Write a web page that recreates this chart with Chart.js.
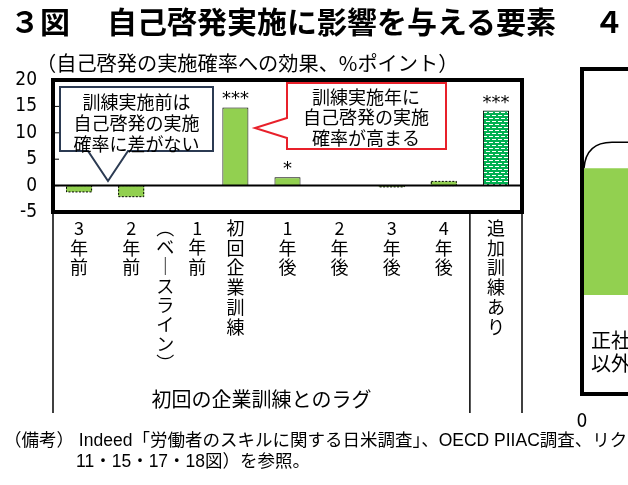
<!DOCTYPE html>
<html><head><meta charset="utf-8">
<script src="https://cdn.jsdelivr.net/npm/chart.js@4/dist/chart.umd.min.js"></script>
<style>
html,body{margin:0;padding:0;background:#fff;}
#wrap{position:relative;width:628px;height:485px;overflow:hidden;background:#fff;}
canvas{position:absolute;top:0;}
.t{position:absolute;white-space:nowrap;color:#000;line-height:1;font-family:"Liberation Sans","Noto Sans CJK JP",sans-serif;}
.h{font-size:30px;font-weight:bold;font-family:'Noto Sans CJK JP',sans-serif;top:5px;}
</style></head><body>
<div id="wrap">
<canvas id="c2" width="320" height="485" style="left:560px"></canvas>
<canvas id="c1" width="628" height="485" style="left:0"></canvas>
<div class="t h" style="left:10px;">３図</div>
<div class="t h" style="left:107px;">自己啓発実施に影響を与える要素</div>
<div class="t h" style="left:594px;">４</div>
<div class="t" id="sub" style="left:36px;top:53px;font-size:20.2px;font-family:'Noto Sans CJK JP',sans-serif;">（自己啓発の実施確率への効果、%ポイント）</div>
<div class="t" id="note1" style="left:4px;top:432px;font-size:17.5px;">（備考） Indeed「労働者のスキルに関する日米調査」、OECD PIIAC調査、リクルート</div>
<div class="t" id="note2" style="left:76px;top:453px;font-size:17.5px;">11・15・17・18図）を参照。</div>
</div>
<script>
// ---- data ----
const categories = ['3年前','2年前','1年前','初回企業訓練','1年後','2年後','3年後','4年後','追加訓練あり'];
const labelNotes = ['','','（ベースライン）','','','','','',''];
const effects = [-1.2, -2.1, 0, 14.8, 1.6, 0, -0.25, 0.8, 14.2];
const stars = ['','','','***','*','','','','***'];
const yTicks = [-5, 0, 5, 10, 15, 20];
const groupLabel = '初回の企業訓練とのラグ';
const calloutLeft = ['訓練実施前は','自己啓発の実施','確率に差がない'];
const calloutRight = ['訓練実施年に','自己啓発の実施','確率が高まる'];
const rightCategories = ['正社員以外'];
const rightValues = [40];
const rightLabelLines = ['正社員','以外'];

const GREEN = '#92D050';
const c1 = document.getElementById('c1');
const ctx1 = c1.getContext('2d');
const pc = document.createElement('canvas'); pc.width = 6; pc.height = 6;
const pg = pc.getContext('2d');
pg.fillStyle = '#00B050'; pg.fillRect(0,0,6,6);
pg.fillStyle = '#ffffff';
pg.fillRect(0,1,4,1); pg.fillRect(3,4,3,1); pg.fillRect(0,4,1,1);
const hatch = ctx1.createPattern(pc, 'repeat');
const isSig = i => stars[i] !== '';
const lastIdx = categories.length - 1;

const vmap = {'（':'︵','）':'︶','ー':'｜'};
function drawColumn(ctx, text, x, y0, step) {
  let y = y0;
  for (const ch of text) { ctx.fillText(vmap[ch] || ch, x, y); y += step; }
}

const decor = {
  id: 'decor',
  afterDatasetsDraw(chart) {
    const {ctx, chartArea: a, scales: {x, y}} = chart;
    const meta = chart.getDatasetMeta(0);
    ctx.save();
    // dashed borders for non-significant bars
    ctx.strokeStyle = '#000'; ctx.lineWidth = 1; ctx.setLineDash([2, 1.5]);
    meta.data.forEach((el, i) => {
      if (isSig(i) || effects[i] === 0) return;
      const p = el.getProps(['x','y','base','width'], true);
      const t = Math.min(p.y, p.base), b = Math.max(p.y, p.base);
      ctx.strokeRect(p.x - p.width/2 + 0.5, t, p.width - 1, Math.max(b - t, 0.5));
    });
    ctx.setLineDash([]);
    // zero line
    const y0 = y.getPixelForValue(0);
    ctx.lineWidth = 2; ctx.beginPath(); ctx.moveTo(a.left, y0); ctx.lineTo(a.right, y0); ctx.stroke();
    // inner ticks
    ctx.lineWidth = 1;
    yTicks.forEach(v => { const py = y.getPixelForValue(v); ctx.beginPath(); ctx.moveTo(a.left, py); ctx.lineTo(a.left + 6, py); ctx.stroke(); });
    // frame
    ctx.lineWidth = 4; ctx.strokeRect(a.left, a.top, a.right - a.left, a.bottom - a.top);
    // stars
    ctx.fillStyle = '#000'; ctx.font = '18px "DejaVu Sans"'; ctx.textAlign = 'center'; ctx.textBaseline = 'alphabetic';
    meta.data.forEach((el, i) => { if (stars[i]) ctx.fillText(stars[i], el.x, Math.min(el.y, el.base) - 3); });
    // separators below frame
    const sep = (x.getPixelForValue(lastIdx - 1) + x.getPixelForValue(lastIdx)) / 2;
    ctx.lineWidth = 1.5;
    [a.left, sep, a.right].forEach(px => { ctx.beginPath(); ctx.moveTo(px, a.bottom + 2); ctx.lineTo(px, 413); ctx.stroke(); });
    // category labels (vertical)
    ctx.font = '18px "Noto Sans CJK JP"'; ctx.textBaseline = 'middle';
    categories.forEach((c, i) => {
      const cx = x.getPixelForValue(i);
      if (labelNotes[i]) {
        drawColumn(ctx, labelNotes[i], cx - 18, 228, 19.3);
        drawColumn(ctx, c, cx + 14, 228, 19.4);
      } else {
        drawColumn(ctx, c, cx, 228, 19.8);
      }
    });
    ctx.font = '20px "Noto Sans CJK JP"';
    ctx.fillText(groupLabel, (a.left + sep) / 2, 399);
    // left callout
    ctx.lineWidth = 2; ctx.strokeStyle = '#2B3A52'; ctx.fillStyle = '#fff';
    ctx.beginPath();
    ctx.moveTo(60, 87); ctx.lineTo(213, 87); ctx.lineTo(213, 151); ctx.lineTo(128, 151);
    ctx.lineTo(108, 181); ctx.lineTo(88, 151); ctx.lineTo(60, 151); ctx.closePath();
    ctx.fill(); ctx.stroke();
    ctx.fillStyle = '#000'; ctx.font = '18px "Noto Sans CJK JP"';
    calloutLeft.forEach((s, k) => ctx.fillText(s, 136.5, 102 + k * 21));
    // right callout
    ctx.strokeStyle = '#E8202A'; ctx.fillStyle = '#fff';
    ctx.beginPath();
    ctx.moveTo(287, 83); ctx.lineTo(446, 83); ctx.lineTo(446, 149); ctx.lineTo(287, 149);
    ctx.lineTo(287, 138); ctx.lineTo(255, 128); ctx.lineTo(287, 118); ctx.closePath();
    ctx.fill(); ctx.stroke();
    ctx.fillStyle = '#000';
    calloutRight.forEach((s, k) => ctx.fillText(s, 366, 97 + k * 20.5));
    ctx.restore();
  }
};

new Chart(c1, {
  type: 'bar',
  data: { labels: categories, datasets: [{
    data: effects,
    backgroundColor: categories.map((c, i) => i === lastIdx ? hatch : GREEN),
    borderColor: '#000',
    borderWidth: categories.map((c, i) => isSig(i) ? 1 : 0),
    barPercentage: 0.5, categoryPercentage: 1
  }]},
  options: {
    responsive: false, animation: false,
    layout: { padding: { left: 0, top: 80, right: 106, bottom: 273 } },
    plugins: { legend: { display: false }, tooltip: { enabled: false } },
    scales: {
      x: { display: false },
      y: {
        min: -5, max: 20,
        afterBuildTicks(s) { s.ticks = yTicks.map(v => ({ value: v })); },
        afterFit(s) { s.width = 53; },
        ticks: { padding: 16, color: '#000', font: { family: 'DejaVu Sans Condensed', size: 19 } },
        grid: { display: false, drawTicks: false },
        border: { display: false }
      }
    }
  },
  plugins: [decor]
});

// ---- right partial panel ----
const decor2 = {
  id: 'decor2',
  afterDatasetsDraw(chart) {
    const {ctx, chartArea: a} = chart;
    const meta = chart.getDatasetMeta(0);
    const el = meta.data[0];
    const top = el.y - el.height / 2;
    ctx.save();
    ctx.strokeStyle = '#000';
    ctx.lineWidth = 1.5;
    ctx.beginPath();
    ctx.moveTo(a.left + 2, top);
    ctx.quadraticCurveTo(a.left + 4, top - 26, a.left + 30, top - 26);
    ctx.lineTo(a.right + 10, top - 26);
    ctx.stroke();
    ctx.lineWidth = 4;
    ctx.strokeRect(a.left, a.top, a.right - a.left + 20, a.bottom - a.top);
    ctx.fillStyle = '#000'; ctx.font = '20px "Noto Sans CJK JP"'; ctx.textBaseline = 'middle'; ctx.textAlign = 'left';
    rightLabelLines.forEach((s, k) => ctx.fillText(s, a.left + 9, 340 + k * 23));
    ctx.restore();
  }
};
new Chart(document.getElementById('c2'), {
  type: 'bar',
  data: { labels: rightCategories, datasets: [{ data: rightValues, backgroundColor: GREEN, barPercentage: 0.39, categoryPercentage: 1 }] },
  options: {
    indexAxis: 'y', responsive: false, animation: false,
    layout: { padding: { left: 22, top: 69, right: 0, bottom: 51 } },
    plugins: { legend: { display: false }, tooltip: { enabled: false } },
    scales: {
      x: {
        min: 0, max: 50,
        afterFit(s) { s.height = 40; s.paddingLeft = 0; s.paddingRight = 0; },
        ticks: { stepSize: 10, padding: 17, maxRotation: 0, autoSkip: false, color: '#000',
          font: { family: 'DejaVu Sans Condensed', size: 19 }, callback: v => v === 0 ? '0' : '' },
        grid: { display: false, drawTicks: false }, border: { display: false }
      },
      y: { display: false }
    }
  },
  plugins: [decor2]
});
</script>
</body></html>
